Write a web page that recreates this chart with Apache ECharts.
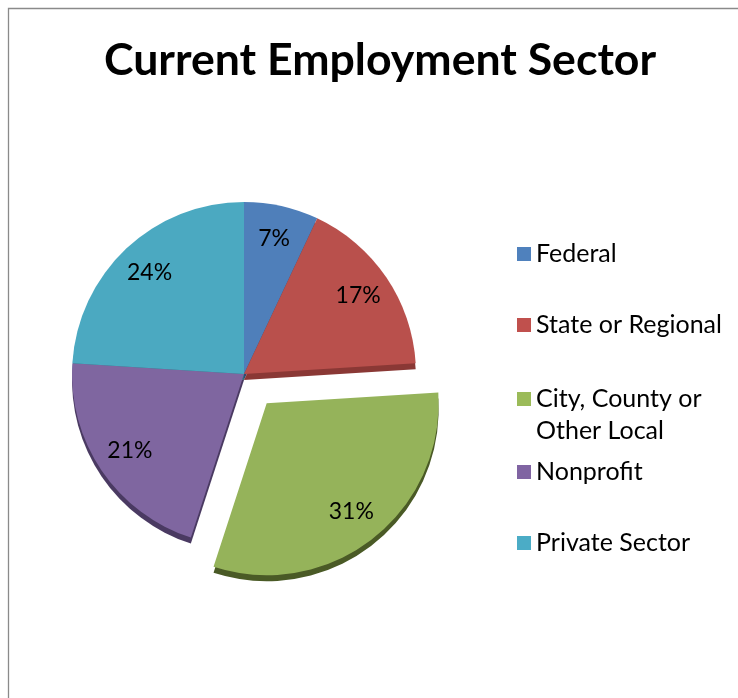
<!DOCTYPE html>
<html>
<head>
<meta charset="utf-8">
<script src="https://cdn.jsdelivr.net/npm/echarts@6/dist/echarts.min.js"></script>
<style>
html,body{margin:0;padding:0;background:#fff;}
#chart{width:738px;height:698px;}
</style>
</head>
<body>
<div id="chart"></div>
<script>
// ---- data ----
const titleText = 'Current Employment Sector';
const categories = ['Federal', 'State or Regional', 'City, County or Other Local', 'Nonprofit', 'Private Sector'];
const legendLabels = ['Federal', 'State or Regional', 'City, County or\nOther Local', 'Nonprofit', 'Private Sector'];
const values = [7, 17, 31, 21, 24];
const explodedIndex = 2;

// ---- styles ----
const faceColors = ['#4f7fba', '#b9504c', '#95b35a', '#7f66a0', '#4ba9c1'];
const legendColors = ['#4f81bd', '#c0504d', '#9bbb59', '#8064a2', '#4bacc6'];
const depthColors = ['#2f4c72', '#8a3835', '#4a5a26', '#4a3a62', '#2e6b7c'];
const FONT = 'Lato, "Open Sans", sans-serif';
const legendCenters = [254, 325, 399, 472, 543];
const CX = 244, CY = 374, R = 172, DEPTH = 6, OFFSET = 37;

function pieData(colors) {
  return categories.map((c, i) => ({
    name: c,
    value: values[i],
    selected: i === explodedIndex,
    itemStyle: { color: colors[i] }
  }));
}

const chart = echarts.init(document.getElementById('chart'));
const option = {
  animation: false,
  backgroundColor: '#fff',
  title: {
    text: titleText,
    left: 99,
    top: 33,
    textStyle: { fontFamily: FONT, fontWeight: 'bold', fontSize: 44.6, color: '#000' }
  },
  graphic: [{
    type: 'rect',
    shape: { x: 8.5, y: 8.5, width: 900, height: 900 },
    style: { fill: 'none', stroke: '#8a8a8a', lineWidth: 1.3 },
    silent: true,
    z: 0
  }],
  legend: categories.map((c, i) => {
    const label = legendLabels[i];
    const isMulti = label.indexOf('\n') >= 0;
    return {
      data: [{ name: c, itemStyle: { color: legendColors[i] } }],
      orient: 'vertical',
      left: 517,
      top: isMulti ? legendCenters[i] - 48 : legendCenters[i] - 16,
      padding: 0,
      itemWidth: 14,
      itemHeight: 14,
      icon: 'rect',
      selectedMode: false,
      formatter: () => (isMulti ? '\n' + label : label),
      textStyle: { fontFamily: FONT, fontSize: 25, lineHeight: 32, color: '#000' }
    };
  }),
  series: [
    {
      name: 'face',
      type: 'pie',
      z: 3,
      center: [CX, CY],
      radius: [0, R],
      startAngle: 90,
      selectedMode: 'single',
      selectedOffset: OFFSET,
      label: { show: false },
      labelLine: { show: false },
      emphasis: { disabled: true },
      data: pieData(faceColors)
    },
    {
      name: 'depth',
      type: 'pie',
      z: 1,
      center: [CX, CY + DEPTH],
      radius: [0, R],
      startAngle: 90,
      selectedMode: 'single',
      selectedOffset: OFFSET,
      silent: true,
      label: { show: false },
      labelLine: { show: false },
      emphasis: { disabled: true },
      data: pieData(depthColors)
    },
    {
      name: 'labels',
      type: 'pie',
      z: 4,
      center: [CX, CY - 1],
      radius: [98, R],
      startAngle: 90,
      selectedMode: 'single',
      selectedOffset: OFFSET,
      silent: true,
      label: {
        show: true,
        position: 'inside',
        formatter: p => p.value + '%',
        fontFamily: FONT,
        fontSize: 23,
        color: '#000'
      },
      labelLine: { show: false },
      emphasis: { disabled: true },
      data: pieData(categories.map(() => 'rgba(0,0,0,0)'))
    }
  ]
};
chart.setOption(option);
</script>
</body>
</html>
